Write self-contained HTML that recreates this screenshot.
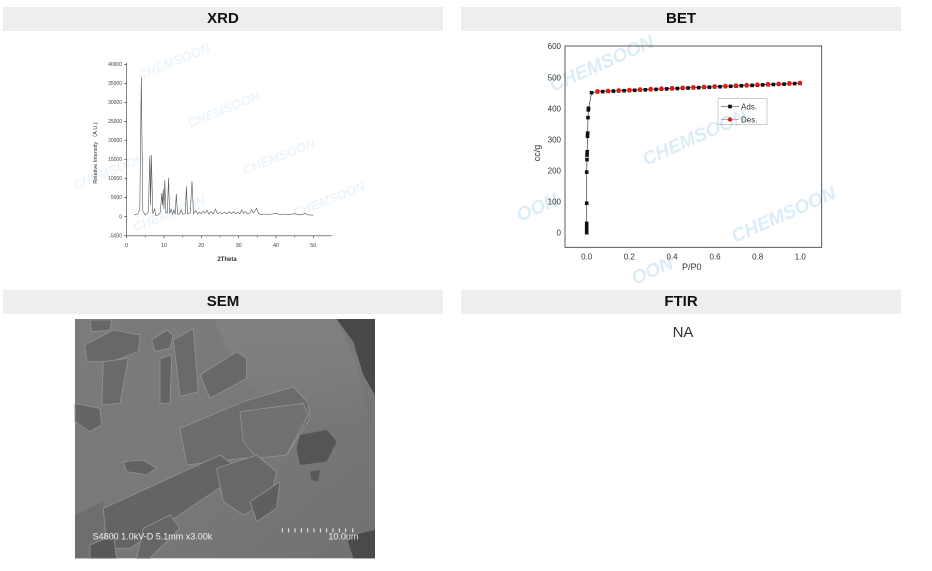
<!DOCTYPE html>
<html><head><meta charset="utf-8"><style>
html,body{margin:0;padding:0;background:#fff;}
body{width:932px;height:571px;position:relative;overflow:hidden;font-family:"Liberation Sans","Noto Sans CJK SC",sans-serif;}
.h{position:absolute;height:24px;line-height:24px;background:#eeeeee;text-align:center;font-weight:bold;font-size:15px;color:#111;}
.na{position:absolute;left:660px;top:324px;width:46px;text-align:center;font-size:15px;color:#333;}
svg{position:absolute;left:0;top:0;}
</style></head><body>
<div class="h" style="left:3px;top:7px;width:440px;">XRD</div>
<div class="h" style="left:461px;top:7px;width:440px;">BET</div>
<div class="h" style="left:3px;top:290px;width:440px;">SEM</div>
<div class="h" style="left:461px;top:290px;width:440px;">FTIR</div>
<div class="na">NA</div>

<svg width="932" height="571" viewBox="0 0 932 571" xmlns="http://www.w3.org/2000/svg" style="font-family:'Liberation Sans',sans-serif;">
<!-- XRD watermarks -->
<g fill="#eef5fa" font-weight="bold" font-style="italic" font-size="13">
<text x="140" y="80" transform="rotate(-22 140 80)">CHEMSOON</text>
<text x="190" y="128" transform="rotate(-22 190 128)">CHEMSOON</text>
<text x="245" y="175" transform="rotate(-22 245 175)">CHEMSOON</text>
<text x="75" y="190" transform="rotate(-22 75 190)">CHEMSOON</text>
<text x="135" y="232" transform="rotate(-22 135 232)">CHEMSOON</text>
<text x="295" y="218" transform="rotate(-22 295 218)">CHEMSOON</text>
</g>
<!-- XRD axes -->
<g stroke="#333" stroke-width="0.6" fill="none">
<line x1="126.7" y1="63" x2="126.7" y2="235.8"/>
<line x1="126.7" y1="235.8" x2="331.7" y2="235.8"/>
<path d="M126.7 64.3h-2.5M126.7 83.3h-2.5M126.7 102.4h-2.5M126.7 121.4h-2.5M126.7 140.5h-2.5M126.7 159.5h-2.5M126.7 178.6h-2.5M126.7 197.6h-2.5M126.7 216.7h-2.5M126.7 235.8h-2.5"/>
<path d="M126.7 235.8v2.5M164 235.8v2.5M201.3 235.8v2.5M238.7 235.8v2.5M276 235.8v2.5M313.3 235.8v2.5M145.4 235.8v1.5M182.7 235.8v1.5M220 235.8v1.5M257.4 235.8v1.5M294.7 235.8v1.5"/>
</g>
<g font-size="5" fill="#444" text-anchor="end">
<text x="122" y="66">40000</text><text x="122" y="85">35000</text><text x="122" y="104">30000</text><text x="122" y="123">25000</text><text x="122" y="142">20000</text><text x="122" y="161">15000</text><text x="122" y="180">10000</text><text x="122" y="199">5000</text><text x="122" y="218.5">0</text><text x="122" y="237.5">-5000</text>
</g>
<g font-size="5.5" fill="#444" text-anchor="middle">
<text x="126.7" y="247">0</text><text x="164" y="247">10</text><text x="201.3" y="247">20</text><text x="238.7" y="247">30</text><text x="276" y="247">40</text><text x="313.3" y="247">50</text>
</g>
<text x="227" y="261" font-size="6" fill="#333" text-anchor="middle" font-weight="bold">2Theta</text>
<text x="97" y="153" font-size="5.5" fill="#333" text-anchor="middle" transform="rotate(-90 97 153)">Relative Intensity （A.U.)</text>
<polyline fill="none" stroke="#555" stroke-width="0.6" points="134.2,214.8 137.9,214 139.8,209.1 141.3,77.6 142.8,211 145.4,215.2 148.4,212.1 149.8,155.7 150.6,205.3 151.3,155 152.8,213.7 154.7,209.1 155.8,215.6 158.4,214.8 160.3,212.1 161.8,193.1 162.5,205.3 163.3,189.3 164,209.1 164.8,180.1 165.9,212.9 167.4,212.9 168.5,177.8 169.6,213.7 171.1,209.1 172.6,214.4 174.1,209.8 175.2,214.4 176.3,193.8 177.5,214.4 179.7,213.7 181.2,209.8 182.7,214.4 185.3,213.7 186.4,186.2 187.5,214 190.2,212.9 192,181.3 193.5,213.7 195.8,210.6 197.6,214 199.5,212.1 201.4,213.7 203.2,211.4 205.1,213.3 207,210.2 208.8,214 211.1,211.7 213.3,214 215.5,209.1 217.4,213.7 220,212.1 221.9,214 224.5,212.1 226.7,214 229.4,211.7 231.2,213.7 233.5,211.7 235.7,213.7 237.9,212.1 239.8,213.7 241.7,209.8 243.5,213.3 245.4,211.7 247.6,214 249.9,213.3 251.8,209.8 253.6,212.9 256.6,208.3 258.5,213.7 261.1,214.4 264.8,214 268.6,214.4 272.3,214 276,213.3 279.8,214.4 283.5,214 287.2,214.6 291,214.2 294.7,213.7 298.4,214.4 302.2,214.6 305.1,213.3 307.7,214.8 313.3,215.2"/>

<!-- BET watermarks -->
<g fill="#dcedf7" font-weight="bold" font-style="italic" font-size="19">
<text x="553" y="92" transform="rotate(-24 553 92)">CHEMSOON</text>
<text x="646" y="166" transform="rotate(-24 646 166)">CHEMSOON</text>
<text x="735" y="243" transform="rotate(-24 735 243)">CHEMSOON</text>
<text x="520" y="222" transform="rotate(-24 520 222)">OON</text>
<text x="635" y="285" transform="rotate(-24 635 285)">OON</text>
</g>
<!-- BET frame -->
<rect x="565" y="46" width="256.7" height="201.3" fill="none" stroke="#333" stroke-width="0.8"/>
<g font-size="8" fill="#333" text-anchor="end">
<text x="561" y="49">600</text><text x="561" y="80.3">500</text><text x="561" y="111.3">400</text><text x="561" y="142.3">300</text><text x="561" y="173.6">200</text><text x="561" y="204.7">100</text><text x="561" y="235.7">0</text>
</g>
<g font-size="8" fill="#333" text-anchor="middle">
<text x="586.7" y="259.5">0.0</text><text x="629.3" y="259.5">0.2</text><text x="672" y="259.5">0.4</text><text x="715" y="259.5">0.6</text><text x="757.7" y="259.5">0.8</text><text x="800.3" y="259.5">1.0</text>
</g>
<text x="691.7" y="270" font-size="9" fill="#333" text-anchor="middle">P/P0</text>
<text x="540" y="153" font-size="9" fill="#333" text-anchor="middle" transform="rotate(-90 540 153)">cc/g</text>

<!-- Ads line -->
<polyline fill="none" stroke="#222" stroke-width="0.6" points="586.7,232.7 586.7,229.6 586.7,226.5 586.7,223.4 586.7,203.2 586.7,172.1 587,159.6 587,155 587.2,151.8 587.5,136.3 587.7,133.2 588,117.6 588.3,109.9 588.5,108.3 591.6,92.7 597.4,91.8 800,83.4"/>
<polyline fill="none" stroke="#e33" stroke-width="0.6" points="597.4,91.2 800,82.8"/>
<g fill="#111">
<rect x="584.9" y="230.9" width="3.6" height="3.6"/><rect x="584.9" y="227.8" width="3.6" height="3.6"/><rect x="584.9" y="224.7" width="3.6" height="3.6"/><rect x="584.9" y="221.6" width="3.6" height="3.6"/>
<rect x="584.9" y="201.4" width="3.6" height="3.6"/><rect x="584.9" y="170.3" width="3.6" height="3.6"/><rect x="585.2" y="157.8" width="3.6" height="3.6"/><rect x="585.2" y="153.2" width="3.6" height="3.6"/><rect x="585.4" y="150" width="3.6" height="3.6"/><rect x="585.7" y="134.5" width="3.6" height="3.6"/><rect x="585.9" y="131.4" width="3.6" height="3.6"/><rect x="586.2" y="115.8" width="3.6" height="3.6"/><rect x="586.5" y="108.1" width="3.6" height="3.6"/><rect x="586.7" y="106.5" width="3.6" height="3.6"/><rect x="589.8" y="90.9" width="3.6" height="3.6"/>
<rect x="595.6" y="90" width="3.6" height="3.6"/><rect x="600.9" y="89.8" width="3.6" height="3.6"/><rect x="606.3" y="89.6" width="3.6" height="3.6"/><rect x="611.6" y="89.3" width="3.6" height="3.6"/><rect x="616.9" y="89.1" width="3.6" height="3.6"/><rect x="622.3" y="88.9" width="3.6" height="3.6"/><rect x="627.6" y="88.7" width="3.6" height="3.6"/><rect x="632.9" y="88.5" width="3.6" height="3.6"/><rect x="638.3" y="88.2" width="3.6" height="3.6"/><rect x="643.6" y="88" width="3.6" height="3.6"/><rect x="648.9" y="87.8" width="3.6" height="3.6"/><rect x="654.3" y="87.6" width="3.6" height="3.6"/><rect x="659.6" y="87.3" width="3.6" height="3.6"/><rect x="664.9" y="87.1" width="3.6" height="3.6"/><rect x="670.3" y="86.9" width="3.6" height="3.6"/><rect x="675.6" y="86.7" width="3.6" height="3.6"/><rect x="680.9" y="86.5" width="3.6" height="3.6"/><rect x="686.3" y="86.2" width="3.6" height="3.6"/><rect x="691.6" y="86" width="3.6" height="3.6"/><rect x="696.9" y="85.8" width="3.6" height="3.6"/><rect x="702.3" y="85.6" width="3.6" height="3.6"/><rect x="707.6" y="85.4" width="3.6" height="3.6"/><rect x="712.9" y="85.1" width="3.6" height="3.6"/><rect x="718.3" y="84.9" width="3.6" height="3.6"/><rect x="723.6" y="84.7" width="3.6" height="3.6"/><rect x="728.9" y="84.5" width="3.6" height="3.6"/><rect x="734.3" y="84.3" width="3.6" height="3.6"/><rect x="739.6" y="84" width="3.6" height="3.6"/><rect x="744.9" y="83.8" width="3.6" height="3.6"/><rect x="750.3" y="83.6" width="3.6" height="3.6"/><rect x="755.6" y="83.4" width="3.6" height="3.6"/><rect x="760.9" y="83.1" width="3.6" height="3.6"/><rect x="766.3" y="82.9" width="3.6" height="3.6"/><rect x="771.6" y="82.7" width="3.6" height="3.6"/><rect x="776.9" y="82.5" width="3.6" height="3.6"/><rect x="782.3" y="82.3" width="3.6" height="3.6"/><rect x="787.6" y="82" width="3.6" height="3.6"/><rect x="792.9" y="81.8" width="3.6" height="3.6"/><rect x="798.2" y="81.6" width="3.6" height="3.6"/>
</g>
<g fill="#e31a1a">
<circle cx="597.4" cy="91.2" r="2.2"/><circle cx="608" cy="90.8" r="2.2"/><circle cx="618.7" cy="90.3" r="2.2"/><circle cx="629.4" cy="89.9" r="2.2"/><circle cx="640" cy="89.4" r="2.2"/><circle cx="650.7" cy="89" r="2.2"/><circle cx="661.4" cy="88.5" r="2.2"/><circle cx="672" cy="88.1" r="2.2"/><circle cx="682.7" cy="87.7" r="2.2"/><circle cx="693.4" cy="87.2" r="2.2"/><circle cx="704" cy="86.8" r="2.2"/><circle cx="714.7" cy="86.3" r="2.2"/><circle cx="725.4" cy="85.9" r="2.2"/><circle cx="736" cy="85.5" r="2.2"/><circle cx="746.7" cy="85" r="2.2"/><circle cx="757.4" cy="84.6" r="2.2"/><circle cx="768" cy="84.1" r="2.2"/><circle cx="778.7" cy="83.7" r="2.2"/><circle cx="789.4" cy="83.2" r="2.2"/><circle cx="800" cy="82.8" r="2.2"/>
</g>
<!-- legend -->
<rect x="718" y="98.5" width="49" height="26" fill="none" stroke="#999" stroke-width="0.5"/>
<line x1="721" y1="106.5" x2="739" y2="106.5" stroke="#222" stroke-width="0.6"/>
<rect x="728.2" y="104.7" width="3.6" height="3.6" fill="#111"/>
<text x="741" y="109.5" font-size="8" fill="#333">Ads.</text>
<line x1="721" y1="119.5" x2="739" y2="119.5" stroke="#e33" stroke-width="0.6"/>
<circle cx="730" cy="119.5" r="2.2" fill="#e31a1a"/>
<text x="741" y="122.5" font-size="8" fill="#333">Des.</text>
</svg>

<!-- SEM image -->
<svg width="310" height="250" viewBox="0 0 930 750" style="left:70px;top:315px;" xmlns="http://www.w3.org/2000/svg">
<defs>
<linearGradient id="bg" x1="0" y1="0" x2="1" y2="1">
<stop offset="0" stop-color="#7b7b7b"/><stop offset="0.5" stop-color="#797979"/><stop offset="1" stop-color="#717171"/>
</linearGradient>
<linearGradient id="bg2" x1="0" y1="0" x2="0" y2="1">
<stop offset="0" stop-color="#868686" stop-opacity="0.6"/><stop offset="1" stop-color="#868686" stop-opacity="0"/>
</linearGradient>
</defs>
<rect x="15" y="12" width="900" height="718" fill="url(#bg)"/>
<polygon points="430,12 800,12 860,150 900,330 700,300 520,200" fill="url(#bg2)"/>
<polygon points="800,12 915,12 915,240 880,180 850,80" fill="#484848"/>
<polygon points="830,665 915,645 915,730 850,730" fill="#4a4a4a"/>
<polygon points="15,600 100,560 110,730 15,730" fill="#6e6e6e"/>
<g stroke="#929292" stroke-width="2.5" stroke-linejoin="round">
<polygon points="45,90 130,45 210,60 205,110 125,140 50,140" fill="#686868"/>
<polygon points="100,140 175,130 150,265 95,270" fill="#6a6a6a"/>
<polygon points="60,15 125,15 120,45 65,50" fill="#666"/>
<polygon points="245,75 290,45 310,60 300,100 255,110" fill="#676767"/>
<polygon points="310,75 370,40 385,230 330,245" fill="#6a6a6a"/>
<polygon points="270,130 305,120 300,265 270,265" fill="#646464"/>
<polygon points="390,180 500,110 530,130 530,190 420,250" fill="#686868"/>
<polygon points="15,265 90,280 95,330 60,350 15,320" fill="#656565"/>
<polygon points="330,340 520,260 670,215 715,265 720,310 650,420 520,430 350,450" fill="#6c6c6c"/>
<polygon points="510,290 700,265 715,300 650,420 560,430 520,380" fill="#717171"/>
<polygon points="100,580 450,420 520,470 180,700 110,700" fill="#646464"/>
<polygon points="440,460 560,420 620,470 600,560 520,600 460,560" fill="#686868"/>
<polygon points="160,440 220,435 260,460 230,480 170,470" fill="#626262"/>
<polygon points="540,560 630,500 620,580 560,620" fill="#5f5f5f"/>
<polygon points="60,690 130,660 140,730 60,730" fill="#585858"/>
<polygon points="220,640 300,600 330,640 240,730 200,730" fill="#666"/>
</g>
<polygon points="690,360 770,345 800,380 770,440 690,450 680,400" fill="#555"/>
<polygon points="720,470 750,465 745,500 725,495" fill="#5a5a5a"/>
<g stroke="#f0f0f0" stroke-width="3">
<path d="M637 640v12M656 640v12M675 640v12M694 640v12M713 640v12M732 640v12M751 640v12M770 640v12M789 640v12M808 640v12M827 640v12M848 640v12"/>
</g>
<text x="68" y="673" font-family="'Liberation Sans',sans-serif" font-size="27" fill="#f2f2f2">S4800 1.0kV-D 5.1mm x3.00k</text>
<text x="775" y="673" font-family="'Liberation Sans',sans-serif" font-size="27" fill="#f2f2f2">10.0um</text>
</svg>
</body></html>
